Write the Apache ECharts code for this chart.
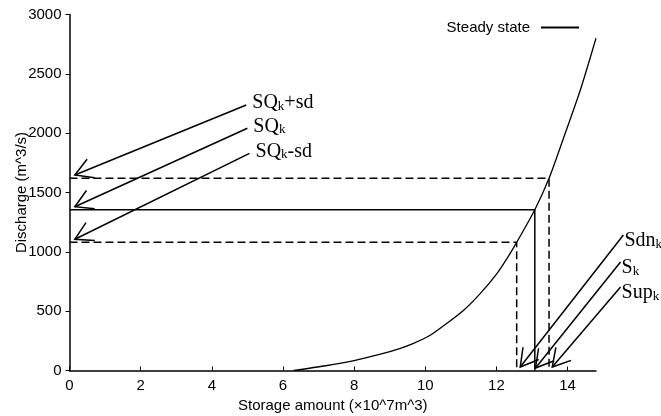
<!DOCTYPE html>
<html>
<head>
<meta charset="utf-8">
<script src="https://cdn.jsdelivr.net/npm/echarts@6/dist/echarts.min.js"></script>
<style>
  html, body { margin: 0; padding: 0; background: #fff; }
  #main { width: 661px; height: 416px; }
</style>
</head>
<body>
<div id="main"></div>
<script>
// steady state curve (storage x10^7 m^3 -> discharge m^3/s)
var storage   = [6.3, 7.2, 8.0, 8.74, 9.3, 9.67, 10.14, 10.61, 11.08, 11.55, 12.02, 12.3, 12.57, 13.08, 13.48, 13.9, 14.36, 14.8];
var discharge = [0,   40,  84,  137,  187, 229,  297,   398,   508,   650,   819,   945,  1080,  1355,  1620,  1970, 2364,  2800];

// SQk+sd, SQk, SQk-sd and matching storages
var sqLevels = [1620, 1355, 1080];
var sLevels  = [13.48, 13.08, 12.57];

// annotation arrows: [tailX, tailY, tipX, tipY]
var leftLabels  = ['SQ{k|k}+sd', 'SQ{k|k}', 'SQ{k|k}-sd'];
var leftArrows  = [[4.97, 2237, 0.15, 1647], [5.0, 2041, 0.15, 1380], [5.06, 1830, 0.15, 1106]];
var rightLabels = ['Sdn{k|k}', 'S{k|k}', 'Sup{k|k}'];
var rightArrows = [[15.57, 1142, 12.67, 29], [15.49, 914, 13.1, 21], [15.49, 704, 13.57, 29]];

var yTicks = { min: 0, max: 3000, interval: 500 };
var xTicks = { min: 0, max: 14.8, interval: 2 };

var myChart = echarts.init(document.getElementById('main'));

function arrowRenderer(labels, dx, dy) {
    return function (params, api) {
        var tail = api.coord([api.value(0), api.value(1)]);
        var tip = api.coord([api.value(2), api.value(3)]);
        var ang = Math.atan2(tail[1] - tip[1], tail[0] - tip[0]);
        var len = 20, a = Math.PI / 6;
        var w1 = [tip[0] + len * Math.cos(ang + a), tip[1] + len * Math.sin(ang + a)];
        var w2 = [tip[0] + len * Math.cos(ang - a), tip[1] + len * Math.sin(ang - a)];
        return {
            type: 'group',
            children: [
                { type: 'line', shape: { x1: tail[0], y1: tail[1], x2: tip[0], y2: tip[1] },
                  style: { stroke: '#000', lineWidth: 1.5 } },
                { type: 'polyline', shape: { points: [w1, tip, w2] },
                  style: { stroke: '#000', lineWidth: 1.5, fill: null } },
                { type: 'text', x: tail[0] + dx, y: tail[1] + dy,
                  style: {
                      text: labels[params.dataIndex],
                      fontFamily: 'Liberation Serif', fontSize: 20, fill: '#000',
                      verticalAlign: 'middle', align: 'left',
                      rich: { k: { fontFamily: 'Liberation Serif', fontSize: 13, verticalAlign: 'bottom', fill: '#000' } }
                  } }
            ]
        };
    };
}

function refLine(i) {
    return [[0, sqLevels[i]], [sLevels[i], sqLevels[i]], [sLevels[i], 0]];
}

var option = {
    animation: false,
    backgroundColor: '#fff',
    textStyle: { fontFamily: 'Liberation Sans' },
    grid: { left: 69.5, right: 65, top: 14.5, bottom: 45.5, outerBoundsMode: 'none', containLabel: false },
    legend: {
        data: ['Steady state'],
        right: 82, top: 20, padding: 0,
        align: 'right',
        itemWidth: 38, itemHeight: 2,
        icon: 'rect',
        textStyle: { fontSize: 15, color: '#000', padding: [0, 6, 0, 0] }
    },
    xAxis: {
        type: 'value',
        min: xTicks.min, max: xTicks.max, interval: xTicks.interval,
        name: 'Storage amount (×10^7m^3)',
        nameLocation: 'middle', nameGap: 27,
        nameTextStyle: { fontSize: 15, color: '#000' },
        axisLine: { lineStyle: { color: '#000', width: 1.5 } },
        axisTick: { inside: true, length: 4, lineStyle: { color: '#000' } },
        axisLabel: { fontSize: 15, color: '#000', margin: 8, showMaxLabel: false },
        splitLine: { show: false }
    },
    yAxis: {
        type: 'value',
        min: yTicks.min, max: yTicks.max, interval: yTicks.interval,
        name: 'Discharge (m^3/s)',
        nameLocation: 'middle', nameGap: 40, nameMoveOverlap: false,
        nameTextStyle: { fontSize: 15, color: '#000' },
        axisLine: { show: true, lineStyle: { color: '#000', width: 1.5 } },
        axisTick: { show: true, length: 4, lineStyle: { color: '#000' } },
        axisLabel: { fontSize: 15, color: '#000', margin: 8, formatter: function (v) { return String(v); } },
        splitLine: { show: false }
    },
    series: [
        {
            name: 'Steady state',
            type: 'line',
            data: storage.map(function (s, i) { return [s, discharge[i]]; }),
            smooth: 0.25,
            symbol: 'none',
            itemStyle: { color: '#000' },
            lineStyle: { color: '#000', width: 1.3 }
        },
        {
            type: 'line', data: refLine(0), symbol: 'none', silent: true,
            lineStyle: { color: '#000', width: 1.5, type: [8, 4] }
        },
        {
            type: 'line', data: refLine(1), symbol: 'none', silent: true,
            lineStyle: { color: '#000', width: 1.5 }
        },
        {
            type: 'line', data: refLine(2), symbol: 'none', silent: true,
            lineStyle: { color: '#000', width: 1.5, type: [8, 4] }
        },
        {
            type: 'custom', data: leftArrows, encode: { x: [0, 2], y: [1, 3] },
            renderItem: arrowRenderer(leftLabels, 6, -2), silent: true
        },
        {
            type: 'custom', data: rightArrows, encode: { x: [0, 2], y: [1, 3] },
            renderItem: arrowRenderer(rightLabels, 1, 6), silent: true
        }
    ]
};

myChart.setOption(option);
</script>
</body>
</html>
